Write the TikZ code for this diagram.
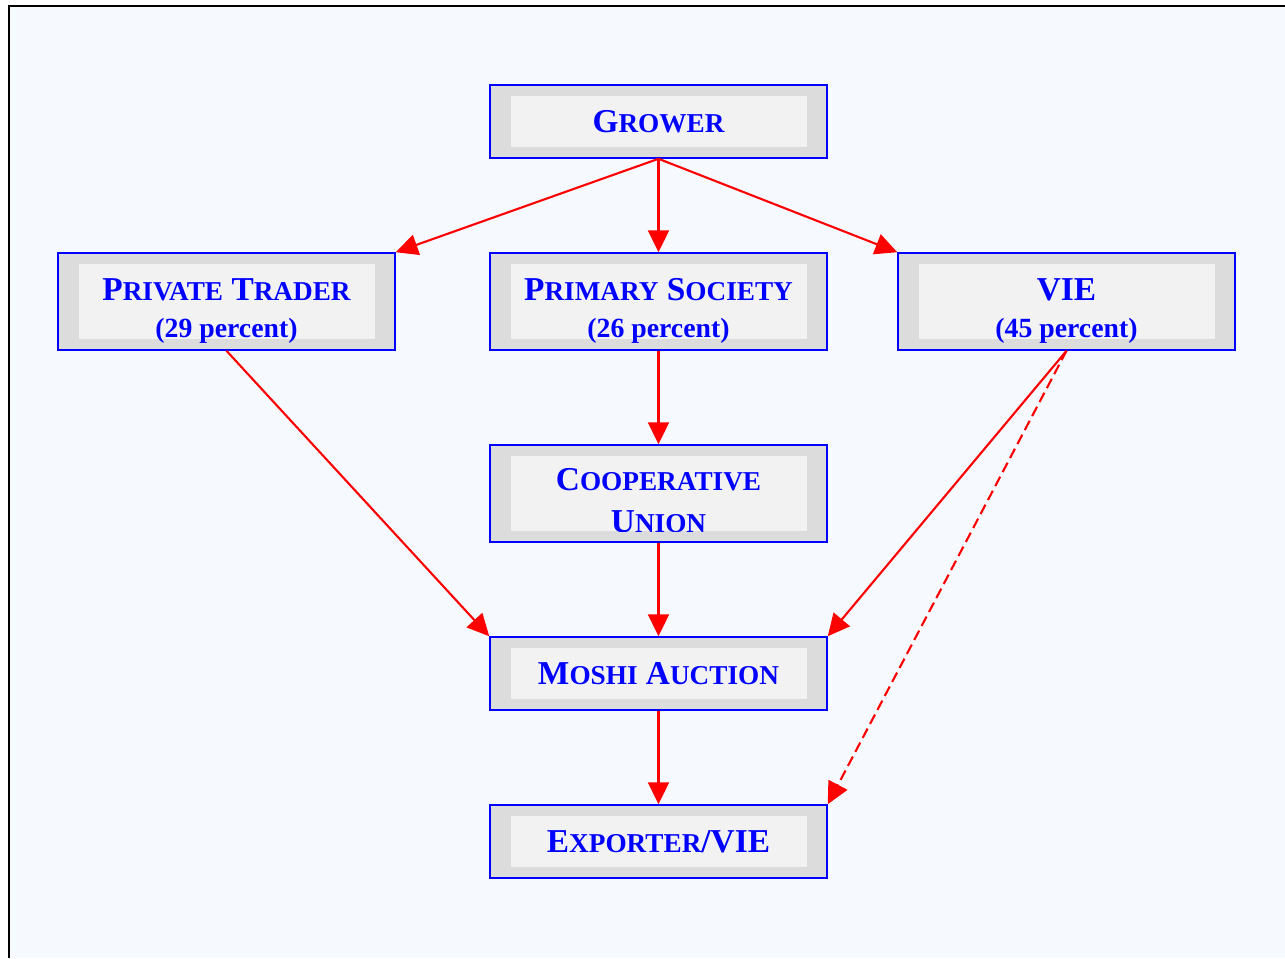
\documentclass[tikz,border=0pt]{standalone}
\usepackage{fontspec}
\setmainfont{Liberation Serif}
\usetikzlibrary{arrows.meta}

\definecolor{pagebg}{RGB}{246,250,255}
\definecolor{boxgray}{RGB}{220,220,220}
\definecolor{innergray}{RGB}{242,242,242}
\newcommand\smc[1]{{\fontsize{15.5}{18}\selectfont #1}}
\newcommand\pct[1]{{\fontsize{15.8}{18}\selectfont (#1 percent)}}
\newcommand\lift{\rule{0pt}{23pt}}

\tikzset{
	boxtext/.style={text=blue, align=center, inner sep=0pt, font=\bfseries\fontsize{19}{21}\selectfont},
	box/.style={boxtext, draw=blue, line width=0.9pt, fill=boxgray, minimum width=6.74cm, minimum height=1.46cm,
		path picture={\fill[innergray] ([shift={(0.42cm,-0.22cm)}]path picture bounding box.north west) rectangle ([shift={(-0.4cm,0.22cm)}]path picture bounding box.south east);}},
	tall/.style={minimum height=1.94cm},
	flow/.style={draw=red, line width=1.2pt, -{Triangle[length=12.5pt,width=12pt]}}
}

\begin{document}
\begin{tikzpicture}[x=0.02cm,y=-0.02cm]
	\useasboundingbox (0,0) rectangle (1285,958);
	\fill[white] (0,0) rectangle (1285,958);
	\fill[pagebg] (9,6) rectangle (1285,958);
	\draw[line width=1.2pt] (9,958) -- (9,6) -- (1285,6);

	\node[box] (grower) at (658.5,121.5) {G\smc{ROWER}};
	\node[box,tall] (trader) at (226.5,301.5) {\lift P\smc{RIVATE} T\smc{RADER}\\\pct{29}};
	\node[box,tall] (society) at (658.5,301.5) {\lift P\smc{RIMARY} S\smc{OCIETY}\\\pct{26}};
	\node[box,tall] (vie) at (1066.5,301.5) {\lift VIE\\\pct{45}};
	\node[box,tall] (union) at (658.5,493.5) {};
	\begin{scope}
		\clip (511,456) rectangle (807,531);
		\node[boxtext] (uniontext) at (658.5,501) {C\smc{OOPERATIVE}\\[3pt]U\smc{NION}};
	\end{scope}
	\node[box] (auction) at (658.5,673.5) {M\smc{OSHI} A\smc{UCTION}};
	\node[box] (exporter) at (658.5,841.5) {E\smc{XPORTER}/VIE};

	\draw[flow] (grower.south) -- (trader.north east);
	\draw[flow] (grower.south) -- (society.north);
	\draw[flow] (grower.south) -- (vie.north west);
	\draw[flow] (society.south) -- (union.north);
	\draw[flow] (union.south) -- (auction.north);
	\draw[flow] (trader.south) -- (auction.north west);
	\draw[flow] (vie.south) -- (auction.north east);
	\draw[flow,dash pattern=on 6pt off 3pt] (vie.south) -- (exporter.north east);
	\draw[flow] (auction.south) -- (exporter.north);
\end{tikzpicture}
\end{document}
